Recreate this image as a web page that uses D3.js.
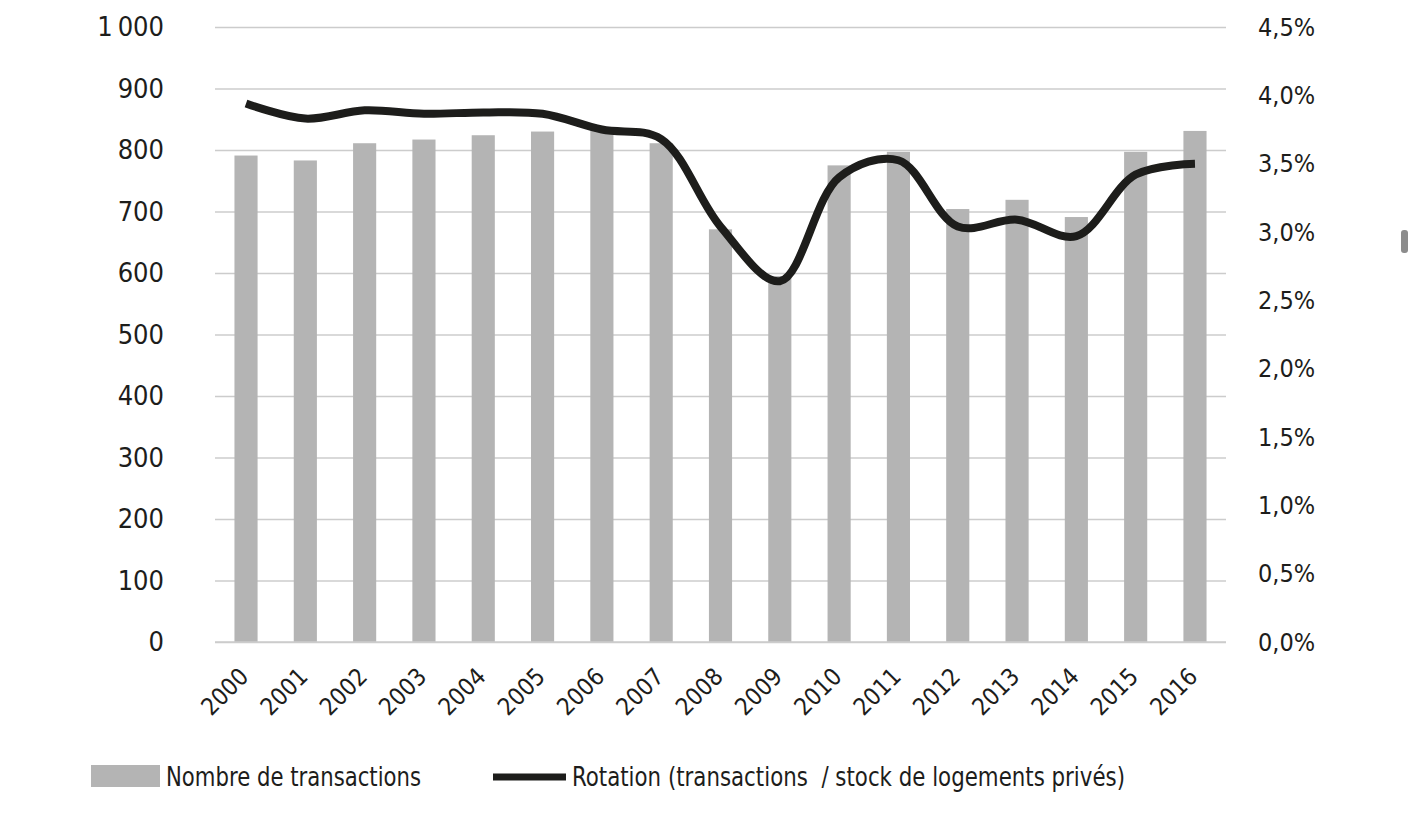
<!DOCTYPE html>
<html>
<head>
<meta charset="utf-8">
<script src="https://cdn.jsdelivr.net/npm/d3@7"></script>
<style>
  html, body { margin: 0; padding: 0; background: #fff; }
  svg text { font-family: "Liberation Sans Narrow", "DejaVu Sans Condensed", sans-serif; fill: #1d1d1b; }
</style>
</head>
<body>
<svg id="chart" width="1409" height="826"></svg>
<script>
// data
const years = ["2000","2001","2002","2003","2004","2005","2006","2007","2008",
               "2009","2010","2011","2012","2013","2014","2015","2016"];
const transactions = [791, 783, 811, 817, 824, 830, 835, 811, 671,
                      595, 775, 797, 704, 719, 691, 797, 831];
const rotation = [3.94, 3.83, 3.89, 3.865, 3.875, 3.865, 3.75, 3.68, 3.04,
                  2.64, 3.40, 3.525, 3.04, 3.09, 2.97, 3.42, 3.50];
const leftTicks = [0, 100, 200, 300, 400, 500, 600, 700, 800, 900, 1000];
const rightTicks = [0, 0.5, 1, 1.5, 2, 2.5, 3, 3.5, 4, 4.5];
const legendLabels = ["Nombre de transactions", "Rotation (transactions  / stock de logements privés)"];

let svg = d3.select('#chart');
let plotLeft = 215, plotRight = 1226, plotTop = 27, plotBottom = 642;

let xScale = d3.scaleBand()
    .domain(years)
    .range([plotLeft, plotRight])
    .paddingInner(0.61)
    .paddingOuter(0.328);

let yLeft = d3.scaleLinear().domain([0, 1000]).range([plotBottom, plotTop]);
let yRight = d3.scaleLinear().domain([0, 4.5]).range([plotBottom, plotTop]);

let fmtLeft = d => d >= 1000 ? d3.format(",")(d).replace(",", "\u2009") : String(d);
let fmtRight = d => d3.format(".1f")(d).replace(".", ",") + "%";

// gridlines from the left axis
let leftAxis = d3.axisLeft(yLeft)
    .tickValues(leftTicks)
    .tickSize(-(plotRight - plotLeft))
    .tickPadding(51)
    .tickFormat(fmtLeft);

let gl = svg.append('g')
    .attr('class', 'y-axis')
    .attr('transform', `translate(${plotLeft},0)`)
    .call(leftAxis);
gl.select('.domain').remove();
gl.selectAll('.tick line').attr('stroke', '#cccccc').attr('stroke-width', 1.5);
gl.selectAll('.tick text')
    .style('font-size', '27px')
    .attr('fill', '#1d1d1b');

// right axis, labels only
let rightAxis = d3.axisRight(yRight)
    .tickValues(rightTicks)
    .tickSize(0)
    .tickPadding(32)
    .tickFormat(fmtRight);

let gr = svg.append('g')
    .attr('class', 'y-axis-right')
    .attr('transform', `translate(${plotRight},0)`)
    .call(rightAxis);
gr.select('.domain').remove();
gr.selectAll('.tick text')
    .style('font-size', '25px')
    .attr('fill', '#1d1d1b');

// bars
svg.selectAll('.bar')
    .data(transactions)
    .enter().append('rect')
    .attr('class', 'bar')
    .attr('x', (d, i) => xScale(years[i]))
    .attr('y', d => yLeft(d))
    .attr('width', xScale.bandwidth())
    .attr('height', d => plotBottom - yLeft(d))
    .attr('fill', '#b4b4b4');

// x axis
let xAxis = d3.axisBottom(xScale).tickSize(0).tickPadding(0);
let gx = svg.append('g')
    .attr('class', 'x-axis')
    .attr('transform', `translate(0,${plotBottom})`)
    .call(xAxis);
gx.select('.domain').attr('stroke', '#cccccc').attr('stroke-width', 1.5)
    .attr('d', `M${plotLeft},0H${plotRight}`);
gx.selectAll('.tick text')
    .style('font-size', '24px')
    .attr('fill', '#1d1d1b')
    .attr('text-anchor', 'end')
    .attr('dy', null)
    .attr('y', 0)
    .attr('transform', 'translate(4,36) rotate(-45)');

// rotation line
let line = d3.line()
    .x((d, i) => xScale(years[i]) + xScale.bandwidth() / 2)
    .y(d => yRight(d))
    .curve(d3.curveCatmullRom);

svg.append('path')
    .datum(rotation)
    .attr('fill', 'none')
    .attr('stroke', '#1d1d1b')
    .attr('stroke-width', 8)
    .attr('d', line);

// legend
let lg = svg.append('g').attr('class', 'legend');
lg.append('rect')
    .attr('x', 91).attr('y', 765)
    .attr('width', 69).attr('height', 22)
    .attr('fill', '#b4b4b4');
lg.append('text')
    .attr('x', 166).attr('y', 786)
    .style('font-size', '26px')
    .attr('textLength', 255)
    .attr('lengthAdjust', 'spacingAndGlyphs')
    .text(legendLabels[0]);
lg.append('line')
    .attr('x1', 493).attr('x2', 566)
    .attr('y1', 777).attr('y2', 777)
    .attr('stroke', '#1d1d1b')
    .attr('stroke-width', 7);
lg.append('text')
    .attr('x', 572).attr('y', 786)
    .style('font-size', '26px')
    .style('white-space', 'pre')
    .attr('textLength', 553)
    .attr('lengthAdjust', 'spacingAndGlyphs')
    .text(legendLabels[1]);

// small grey mark at the right edge
svg.append('rect')
    .attr('x', 1401).attr('y', 230)
    .attr('width', 7).attr('height', 23)
    .attr('rx', 3)
    .attr('fill', '#8c8c8c');
</script>
</body>
</html>
